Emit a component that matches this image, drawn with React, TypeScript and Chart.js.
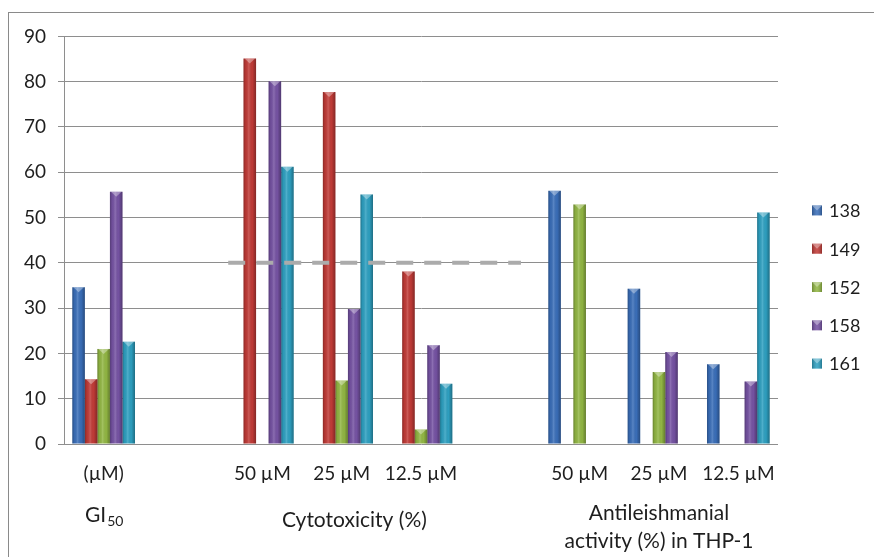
import React, { useEffect, useRef } from 'react';
import { Chart, registerables } from 'chart.js';

Chart.register(...registerables);

// ---- data ----
const categories = ['(µM)', '', '50 µM', '25 µM', '12.5 µM', '', '50 µM', '25 µM', '12.5 µM'];
const seriesNames = ['138', '149', '152', '158', '161'];
const seriesColors = ['#3A6FBA', '#C23B37', '#93B844', '#7653A4', '#2EA1C2'];
const s138 = [34.6, null, null, null, null, null, 55.9, 34.3, 17.6];
const s149 = [14.3, null, 85.1, 77.7, 38.1, null, null, null, null];
const s152 = [21.0, null, null, 14.0, 3.2, null, 52.9, 15.9, null];
const s158 = [55.7, null, 80.1, 29.8, 21.8, null, null, 20.3, 13.8];
const s161 = [22.6, null, 61.2, 55.1, 13.3, null, null, null, 51.1];
const seriesValues = [s138, s149, s152, s158, s161];
const yMin = 0;
const yMax = 90;
const yStep = 10;
// group captions under the category labels (position on category scale)
const groupTexts = [['GI', '50'], ['Cytotoxicity (%)'], ['Antileishmanial', 'activity (%) in THP-1']];
const groupPositions = [0, 3.16, 7];
// dashed reference line
const refValue = 40;
const refFrom = 1.57;
const refTo = 5.26;

const FONT = 'Lato, "Open Sans", sans-serif';
const TEXT = '#1e1e1e';

function catPixel(scale: any, v: number) {
  const p0 = scale.getPixelForValue(0);
  const p1 = scale.getPixelForValue(1);
  return p0 + (p1 - p0) * v;
}

const decorPlugin = {
  id: 'decor',
  afterDatasetsDraw(chart: any) {
    const ctx = chart.ctx;
    // 3D-like shading on bars
    chart.data.datasets.forEach((ds: any, di: number) => {
      const meta = chart.getDatasetMeta(di);
      meta.data.forEach((el: any, i: number) => {
        if (ds.data[i] == null) return;
        const { x, y, base, width } = el.getProps(['x', 'y', 'base', 'width'], true);
        const left = x - width / 2;
        const g = ctx.createLinearGradient(left, 0, left + width, 0);
        g.addColorStop(0, 'rgba(0,0,0,0.28)');
        g.addColorStop(0.18, 'rgba(0,0,0,0.05)');
        g.addColorStop(0.42, 'rgba(255,255,255,0.16)');
        g.addColorStop(0.7, 'rgba(0,0,0,0.02)');
        g.addColorStop(1, 'rgba(0,0,0,0.32)');
        ctx.save();
        ctx.fillStyle = g;
        ctx.fillRect(left, y, width, base - y);
        ctx.fillStyle = 'rgba(255,255,255,0.35)';
        ctx.beginPath();
        ctx.moveTo(left + 1, y);
        ctx.lineTo(left + width - 1, y);
        ctx.lineTo(x, y + Math.min(5, base - y));
        ctx.closePath();
        ctx.fill();
        ctx.restore();
      });
    });
    // dashed reference line
    const xs = chart.scales.x;
    const ys = chart.scales.y;
    const yy = ys.getPixelForValue(refValue);
    ctx.save();
    ctx.strokeStyle = '#ABABAB';
    ctx.lineWidth = 4;
    ctx.setLineDash([17, 11]);
    ctx.beginPath();
    ctx.moveTo(catPixel(xs, refFrom), yy);
    ctx.lineTo(catPixel(xs, refTo), yy);
    ctx.stroke();
    ctx.restore();
  },
  afterDraw(chart: any) {
    const ctx = chart.ctx;
    const xs = chart.scales.x;
    const bottom = chart.chartArea.bottom;
    ctx.save();
    ctx.fillStyle = TEXT;
    ctx.textBaseline = 'alphabetic';
    // GI50 with subscript
    {
      const cx = catPixel(xs, groupPositions[0]);
      const [main, sub] = groupTexts[0];
      ctx.font = `21px ${FONT}`;
      const w1 = ctx.measureText(main).width;
      ctx.font = `14px ${FONT}`;
      const w2 = ctx.measureText(sub).width;
      const sx = cx - (w1 + w2) / 2;
      ctx.textAlign = 'left';
      ctx.font = `21px ${FONT}`;
      ctx.fillText(main, sx, bottom + 78);
      ctx.font = `14px ${FONT}`;
      ctx.fillText(sub, sx + w1 + 1, bottom + 82);
    }
    ctx.textAlign = 'center';
    ctx.font = `21px ${FONT}`;
    ctx.fillText(groupTexts[1][0], catPixel(xs, groupPositions[1]), bottom + 83);
    ctx.fillText(groupTexts[2][0], catPixel(xs, groupPositions[2]), bottom + 76);
    ctx.fillText(groupTexts[2][1], catPixel(xs, groupPositions[2]), bottom + 104);
    // legend
    const lx = chart.chartArea.right + 34;
    const spacing = 38.3;
    const y0 = chart.height / 2 - spacing * 2 + 2;
    seriesNames.forEach((name, i) => {
      const cy = y0 + i * spacing;
      ctx.fillStyle = seriesColors[i];
      ctx.fillRect(lx, cy - 5, 10, 10);
      const g = ctx.createLinearGradient(lx, 0, lx + 10, 0);
      g.addColorStop(0, 'rgba(0,0,0,0.25)');
      g.addColorStop(0.5, 'rgba(255,255,255,0.12)');
      g.addColorStop(1, 'rgba(0,0,0,0.25)');
      ctx.fillStyle = g;
      ctx.fillRect(lx, cy - 5, 10, 10);
      ctx.fillStyle = 'rgba(255,255,255,0.35)';
      ctx.beginPath();
      ctx.moveTo(lx, cy - 5);
      ctx.lineTo(lx + 10, cy - 5);
      ctx.lineTo(lx + 5, cy);
      ctx.closePath();
      ctx.fill();
      ctx.fillStyle = TEXT;
      ctx.font = `18px ${FONT}`;
      ctx.textAlign = 'left';
      ctx.textBaseline = 'middle';
      ctx.fillText(name, lx + 17, cy + 1);
    });
    ctx.restore();
  },
};

export default function App() {
  const ref = useRef<HTMLCanvasElement>(null);
  useEffect(() => {
    if (!ref.current) return;
    const chart = new Chart(ref.current, {
      type: 'bar',
      data: {
        labels: categories,
        datasets: seriesNames.map((n, i) => ({
          label: n,
          data: seriesValues[i],
          backgroundColor: seriesColors[i],
          borderWidth: 0,
          categoryPercentage: 0.79,
          barPercentage: 1,
        })),
      },
      options: {
        responsive: false,
        animation: false,
        devicePixelRatio: 1,
        layout: { padding: { top: 23, right: 96, left: 0, bottom: 0 } },
        plugins: { legend: { display: false }, tooltip: { enabled: false } },
        scales: {
          x: {
            grid: { display: false, drawTicks: false },
            border: { display: false },
            ticks: { font: { family: FONT, size: 19 }, color: TEXT, padding: 18, maxRotation: 0, autoSkip: false },
            afterFit: (s: any) => { s.height = 113; },
          },
          y: {
            min: yMin,
            max: yMax,
            ticks: { stepSize: yStep, font: { family: FONT, size: 19 }, color: TEXT, padding: 12 },
            grid: { color: '#8E8E8E', lineWidth: 1, tickLength: 6, drawTicks: true },
            border: { display: true, color: '#8E8E8E' },
            afterFit: (s: any) => { s.width = 55; },
          },
        },
      },
      plugins: [decorPlugin],
    });
    return () => chart.destroy();
  }, []);
  return (
    <div
      style={{
        position: 'absolute',
        left: 8,
        top: 12,
        width: 866,
        height: 545,
        borderLeft: '1px solid #8A8A8A',
        borderTop: '1px solid #8A8A8A',
        boxSizing: 'border-box',
        background: '#fff',
      }}
    >
      <canvas ref={ref} width={865} height={544} style={{ display: 'block' }} />
    </div>
  );
}
